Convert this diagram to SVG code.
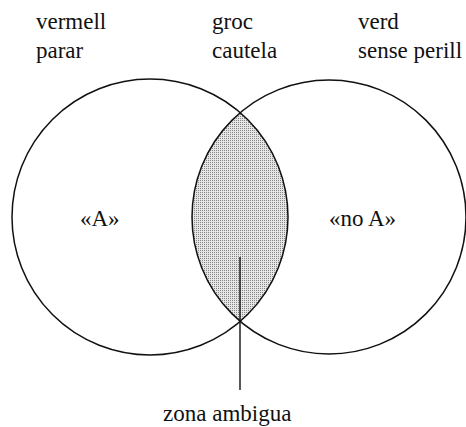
<svg xmlns="http://www.w3.org/2000/svg" width="466" height="427" viewBox="0 0 466 427">
<style>
  .lbl { font-family: "Liberation Serif", "Times New Roman", serif; font-size: 23px; fill: #111; }
  .ring { fill: none; stroke: #111; stroke-width: 1.5; }
  .lead { stroke: #111; stroke-width: 1.4; fill: none; }
</style>
<defs>
  <pattern id="stipple" width="2" height="2" patternUnits="userSpaceOnUse">
    <rect width="2" height="2" fill="#e6e6e6"/>
    <rect width="1" height="1" fill="#858585"/>
  </pattern>
</defs>
<rect width="466" height="427" fill="#fff"/>
<g id="zona-ambigua-area">
  <path d="M 240.3 112.6 A 137 137 0 0 0 240.3 321.4 A 138 138 0 0 0 240.3 112.6 Z" fill="url(#stipple)"/>
</g>
<g id="circle-A">
  <circle class="ring" cx="150" cy="217" r="138"/>
  <text class="lbl" x="80" y="226">«A»</text>
</g>
<g id="circle-noA">
  <circle class="ring" cx="329" cy="217" r="137"/>
  <text class="lbl" x="329" y="226">«no A»</text>
</g>
<g id="label-vermell">
  <text class="lbl" x="36" y="29">vermell</text>
  <text class="lbl" x="36" y="58">parar</text>
</g>
<g id="label-groc">
  <text class="lbl" x="212" y="29">groc</text>
  <text class="lbl" x="212" y="58">cautela</text>
</g>
<g id="label-verd">
  <text class="lbl" x="358" y="29">verd</text>
  <text class="lbl" x="358" y="58">sense perill</text>
</g>
<g id="connectors">
  <line class="lead" x1="240" y1="257" x2="240" y2="390"/>
</g>
<g id="label-zona">
  <text class="lbl" x="163" y="421">zona ambigua</text>
</g>
</svg>
